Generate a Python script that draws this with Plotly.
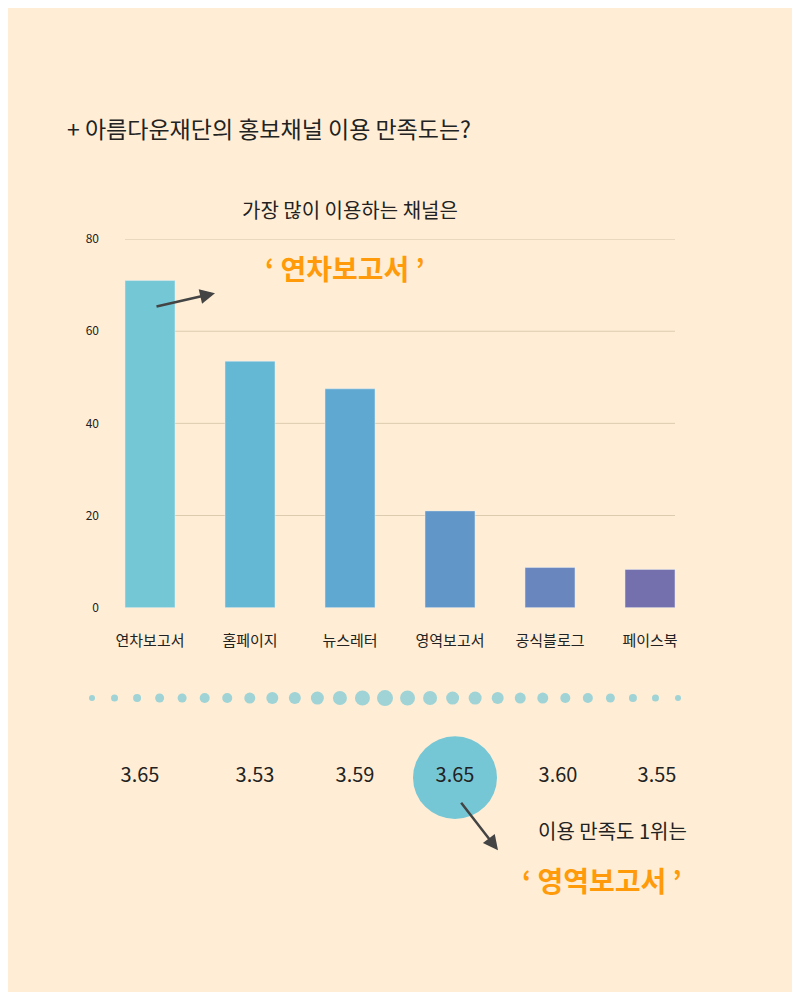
import plotly.graph_objects as go

channels = ["연차보고서", "홈페이지", "뉴스레터", "영역보고서", "공식블로그", "페이스북"]
usage = [71, 53.5, 47.5, 21, 8.7, 8.3]
satisfaction = [3.65, 3.53, 3.59, 3.65, 3.60, 3.55]
bar_colors = ["#74c8d6", "#64b8d4", "#5ea8d2", "#6096c8", "#6a86be", "#7470ae"]
dot_sizes = [6, 7, 8, 9, 9, 10, 10, 11, 12, 12, 13, 14, 15, 16, 15, 14, 13, 13, 12, 11, 11, 10, 10, 9, 8, 7, 6]
yticks = [0, 20, 40, 60, 80]

FONT = "Noto Sans CJK KR"
BG = "#ffeed5"
BLUE = "#76c7d6"
ORANGE = "#ff9a0a"

# the page renders with an 8px body margin; compensate so pixel coords match the 800x1000 shot
W, H, OFF = 784, 984, 8

fig = go.Figure()
fig.add_trace(go.Bar(x=channels, y=usage, marker=dict(color=bar_colors), width=0.5))

# gridlines only span the inner part of the chart
for t in yticks[1:]:
    fig.add_shape(type="line", xref="paper", yref="y", x0=(125 - OFF) / W, x1=(675 - OFF) / W,
                  y0=t, y1=t, line=dict(color="#ddcbb0", width=1), layer="below")

n = len(dot_sizes)
dot_x = [92 + i * (678 - 92) / (n - 1) for i in range(n)]
fig.add_trace(go.Scatter(x=dot_x, y=[700] * n, mode="markers", xaxis="x2", yaxis="y2",
                         marker=dict(size=dot_sizes, color=BLUE, line=dict(width=0)),
                         hoverinfo="skip"))
sat_x = [140, 255, 355, 455, 558, 657]
fig.add_shape(type="circle", xref="x2", yref="y2", x0=413, x1=497, y0=739, y1=823,
              fillcolor=BLUE, line=dict(width=0), layer="below")
fig.add_trace(go.Scatter(x=sat_x, y=[780] * len(satisfaction), mode="text", xaxis="x2", yaxis="y2",
                         text=[f"{v:.2f}" for v in satisfaction],
                         textfont=dict(family=FONT, size=20, color="#222")))

ann = [
    dict(x=65, y=120, text="+ 아름다운재단의 홍보채널 이용 만족도는?", size=23, color="#222", xanchor="left"),
    dict(x=350, y=203, text="가장 많이 이용하는 채널은", size=20, color="#222", xanchor="center"),
    dict(x=345, y=262, text="<b>‘ 연차보고서 ’</b>", size=28, color=ORANGE, xanchor="center"),
    dict(x=612, y=835, text="이용 만족도 1위는", size=20, color="#222", xanchor="center"),
    dict(x=602, y=885, text="<b>‘ 영역보고서 ’</b>", size=28, color=ORANGE, xanchor="center"),
]
annotations = [dict(xref="x2", yref="y2", x=a["x"], y=a["y"], text=a["text"], showarrow=False,
                    xanchor=a["xanchor"], font=dict(family=FONT, size=a["size"], color=a["color"]))
               for a in ann]
annotations += [
    dict(xref="x2", yref="y2", x=215, y=288, ax=155, ay=302, axref="x2", ayref="y2",
         showarrow=True, arrowhead=2, arrowsize=1.2, arrowwidth=2.5, arrowcolor="#444", text=""),
    dict(xref="x2", yref="y2", x=498, y=855, ax=460, ay=805, axref="x2", ayref="y2",
         showarrow=True, arrowhead=2, arrowsize=1.2, arrowwidth=2.5, arrowcolor="#444", text=""),
]

fig.update_layout(
    width=W, height=H, margin=dict(l=0, r=0, t=0, b=0),
    paper_bgcolor=BG, plot_bgcolor="rgba(0,0,0,0)", showlegend=False,
    font=dict(family=FONT, color="#222"),
    xaxis=dict(domain=[(100 - OFF) / W, (700 - OFF) / W], showgrid=False, ticks="", anchor="y",
               tickfont=dict(size=15, color="#222"), showline=False, ticklabelstandoff=22),
    yaxis=dict(domain=[(H + OFF - 608) / H, (H + OFF - 233) / H], range=[0, 80], tickvals=yticks,
               showgrid=False, anchor="x", tickfont=dict(size=12, color="#222"),
               zeroline=False, ticklabelstandoff=0),
    xaxis2=dict(domain=[0, 1], range=[OFF, OFF + W], visible=False, anchor="y2"),
    yaxis2=dict(domain=[0, 1], range=[OFF + H, OFF], visible=False, anchor="x2"),
    annotations=annotations,
)
fig.write_html("out.html")
